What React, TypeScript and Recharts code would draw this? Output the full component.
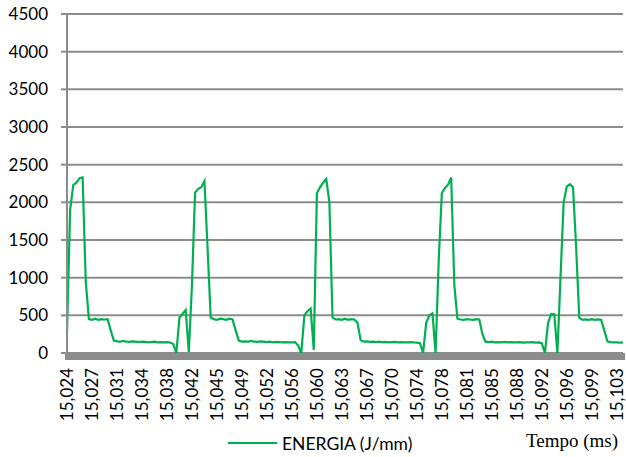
import { LineChart, Line, XAxis, YAxis, CartesianGrid, Legend } from "recharts";

// rótulos do eixo do tempo (ms), um a cada 8 amostras
const tickLabels = [
  "15,024", "15,027", "15,031", "15,034", "15,038", "15,042", "15,045", "15,049",
  "15,052", "15,056", "15,060", "15,063", "15,067", "15,070", "15,074", "15,078",
  "15,081", "15,085", "15,088", "15,092", "15,096", "15,099", "15,103",
];

// energia (J/mm), amostra a amostra
const energia = [
  265, 1900, 2230, 2260, 2320, 2330, 950, 450, 440, 455,
  440, 450, 445, 450, 300, 165, 155, 150, 160, 150,
  148, 155, 150, 145, 150, 148, 140, 145, 150, 142,
  145, 140, 145, 140, 120, 0, 470, 520, 570, 10,
  900, 2130, 2180, 2200, 2280, 1400, 470, 450, 440, 455,
  450, 440, 455, 445, 300, 165, 150, 155, 150, 160,
  150, 148, 155, 150, 145, 150, 140, 148, 145, 140,
  145, 142, 140, 145, 100, 0, 500, 555, 590, 40,
  2120, 2200, 2260, 2310, 2000, 470, 445, 450, 440, 455,
  440, 450, 445, 400, 172, 150, 155, 148, 150, 145,
  150, 142, 148, 140, 145, 148, 140, 145, 142, 140,
  145, 140, 138, 130, 0, 400, 500, 525, 0, 1230,
  2120, 2190, 2235, 2330, 900, 455, 445, 440, 450, 445,
  440, 450, 445, 250, 150, 145, 150, 142, 145, 140,
  148, 140, 145, 142, 140, 145, 138, 142, 140, 145,
  138, 140, 130, 0, 400, 520, 515, 0, 1010, 2000,
  2210, 2240, 2200, 1400, 470, 440, 445, 440, 450, 440,
  445, 440, 300, 155, 145, 140, 142, 138, 140,
];

const yTicks = [0, 500, 1000, 1500, 2000, 2500, 3000, 3500, 4000, 4500];

const POR_ROTULO = 8;
const VERDE = "#00b050";
const CINZA = "#8c8c8c";
const FONTE = "Lato, 'Liberation Sans', sans-serif";

const data = energia.map((v, i) => ({ idx: i, energia: v }));

const TickTempo = (props: any) => {
  const { x, y, payload } = props;
  const i = payload.value as number;
  if (i % POR_ROTULO !== 0) return null;
  const label = tickLabels[i / POR_ROTULO];
  if (!label) return null;
  return (
    <text
      x={x}
      y={y}
      transform={`rotate(-90 ${x} ${y})`}
      textAnchor="end"
      dy="0.36em"
      fill="#000"
      fontSize={17}
      fontFamily={FONTE}
    >
      {label}
    </text>
  );
};

const Legenda = () => (
  <div style={{ position: "relative", width: 626, height: 24 }}>
    <svg width={60} height={24} style={{ position: "absolute", left: 226, top: 0 }}>
      <line x1={2} y1={10} x2={51} y2={10} stroke={VERDE} strokeWidth={2} />
    </svg>
    <span
      style={{
        position: "absolute", left: 282, top: 0, lineHeight: "21px",
        fontFamily: FONTE, fontSize: 17.5, color: "#000", whiteSpace: "nowrap",
      }}
    >
      ENERGIA (J/mm)
    </span>
    <span
      style={{
        position: "absolute", right: 8, top: -3, lineHeight: "21px",
        fontFamily: "'Liberation Serif', 'Times New Roman', serif", fontSize: 19,
        color: "#000", whiteSpace: "nowrap",
      }}
    >
      Tempo (ms)
    </span>
  </div>
);

export default function App() {
  return (
    <div style={{ position: "absolute", left: 0, top: 0, background: "#fff" }}>
      <LineChart width={626} height={457} data={data} margin={{ top: 14, right: 3, left: 0, bottom: 0 }}>
        <CartesianGrid vertical={false} stroke={CINZA} strokeWidth={2} />
        <XAxis
          dataKey="idx"
          type="category"
          interval={0}
          height={80}
          axisLine={false}
          tickSize={7}
          tickMargin={8}
          tickLine={{ stroke: CINZA, strokeWidth: 4 }}
          tick={<TickTempo />}
        />
        <YAxis
          domain={[0, 4500]}
          ticks={yTicks}
          interval={0}
          width={67}
          tickSize={6}
          tickMargin={13}
          axisLine={{ stroke: CINZA, strokeWidth: 2 }}
          tickLine={{ stroke: CINZA, strokeWidth: 2 }}
          tick={{ fill: "#000", fontSize: 17, fontFamily: FONTE }}
        />
        <Legend verticalAlign="bottom" height={24} content={<Legenda />} wrapperStyle={{ left: 0, bottom: 0, width: 626 }} />
        <Line
          type="linear"
          dataKey="energia"
          stroke={VERDE}
          strokeWidth={2.2}
          dot={false}
          isAnimationActive={false}
        />
      </LineChart>
    </div>
  );
}
